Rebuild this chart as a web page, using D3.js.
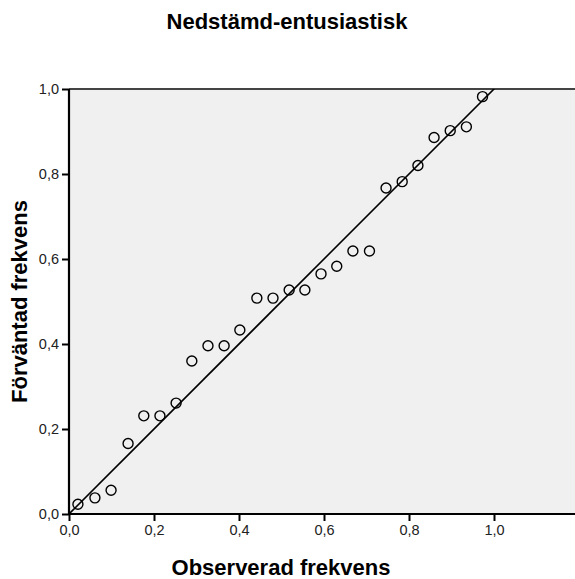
<!DOCTYPE html>
<html>
<head>
<meta charset="utf-8">
<script src="https://cdn.jsdelivr.net/npm/d3@7"></script>
<style>
  body { margin: 0; background: #fff; }
  text { font-family: "Liberation Sans", Arial, sans-serif; }
</style>
</head>
<body>
<svg></svg>
<script>
var WIDTH = 575;
var HEIGHT = 579;

var title = "Nedstämd-entusiastisk";
var xTitle = "Observerad frekvens";
var yTitle = "Förväntad frekvens";

var observed = [0.021, 0.061, 0.099, 0.139, 0.176, 0.214, 0.252, 0.289, 0.327, 0.365,
    0.402, 0.442, 0.480, 0.518, 0.555, 0.593, 0.630, 0.668, 0.707, 0.746,
    0.784, 0.821, 0.859, 0.897, 0.935, 0.973];
var expected = [0.023, 0.038, 0.056, 0.166, 0.231, 0.231, 0.261, 0.360, 0.396, 0.396,
    0.433, 0.508, 0.508, 0.527, 0.527, 0.565, 0.583, 0.619, 0.619, 0.767,
    0.782, 0.820, 0.886, 0.902, 0.911, 0.982];
var tickValues = [0, 0.2, 0.4, 0.6, 0.8, 1.0];

var pointsData = observed.map(function(d, i) {
    return {x: d, y: expected[i]};
});

var plotLeft = 69, plotRight = 575, plotTop = 89, plotBottom = 514;

var x = d3.scaleLinear().domain([0, 1]).range([plotLeft, plotLeft + 425]);
var y = d3.scaleLinear().domain([0, 1]).range([plotBottom, plotTop]);

var fmt = function(d) { return d3.format(".1f")(d).replace(".", ","); };

var svg = d3.select("svg")
    .attr("width", WIDTH)
    .attr("height", HEIGHT);

svg.append("rect")
    .attr("x", plotLeft).attr("y", plotTop)
    .attr("width", plotRight - plotLeft).attr("height", plotBottom - plotTop)
    .attr("fill", "#f0f0f0");

svg.append("line")
    .attr("x1", plotLeft).attr("x2", plotRight)
    .attr("y1", plotTop).attr("y2", plotTop)
    .attr("stroke", "#444").attr("stroke-width", 2);

svg.append("defs").append("clipPath").attr("id", "plot")
    .append("rect")
    .attr("x", plotLeft).attr("y", plotTop)
    .attr("width", plotRight - plotLeft).attr("height", plotBottom - plotTop);

// reference line y = x
svg.append("line")
    .attr("clip-path", "url(#plot)")
    .attr("x1", x(0)).attr("y1", y(0))
    .attr("x2", x(1.01)).attr("y2", y(1.01))
    .attr("stroke", "#000").attr("stroke-width", 1.6);

svg.append("g")
    .selectAll("circle")
    .data(pointsData)
    .enter()
    .append("circle")
    .attr("cx", function(d) { return x(d.x); })
    .attr("cy", function(d) { return y(d.y); })
    .attr("r", 5)
    .attr("fill", "none")
    .attr("stroke", "#000")
    .attr("stroke-width", 1.4);

var xAxis = svg.append("g")
    .attr("transform", "translate(0," + plotBottom + ")")
    .call(d3.axisBottom(x).tickValues(tickValues).tickFormat(fmt).tickSize(7).tickPadding(4));
xAxis.select(".domain").attr("d", "M" + plotLeft + ",0H" + plotRight).attr("stroke-width", 2.2);

var yAxis = svg.append("g")
    .attr("transform", "translate(" + plotLeft + ",0)")
    .call(d3.axisLeft(y).tickValues(tickValues).tickFormat(fmt).tickSize(7).tickPadding(3));
yAxis.select(".domain").attr("d", "M0," + plotTop + "V" + plotBottom).attr("stroke-width", 2.2);

svg.selectAll(".tick line").attr("stroke-width", 2);
svg.selectAll(".tick text")
    .attr("font-size", 14.5)
    .attr("fill", "#222")
    .style("font-family", "'Liberation Sans', Arial, sans-serif");

svg.append("text")
    .attr("x", 287).attr("y", 29)
    .attr("text-anchor", "middle")
    .attr("font-size", 22).attr("font-weight", "bold")
    .text(title);

svg.append("text")
    .attr("x", 281).attr("y", 575)
    .attr("text-anchor", "middle")
    .attr("font-size", 22).attr("font-weight", "bold")
    .text(xTitle);

svg.append("text")
    .attr("transform", "translate(27," + ((plotTop + plotBottom) / 2) + ") rotate(-90)")
    .attr("text-anchor", "middle")
    .attr("font-size", 22).attr("font-weight", "bold")
    .text(yTitle);
</script>
</body>
</html>
